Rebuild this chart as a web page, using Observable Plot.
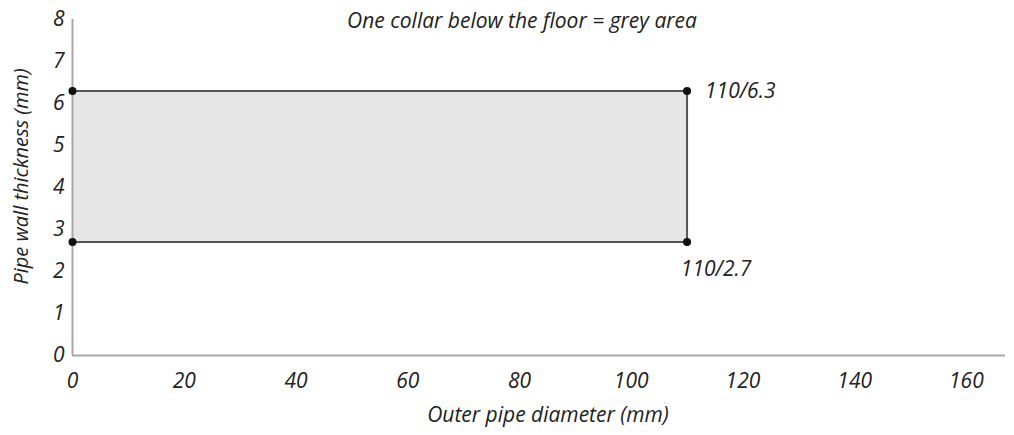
<!DOCTYPE html>
<html>
<head>
<meta charset="utf-8">
<script src="https://cdn.jsdelivr.net/npm/d3@7"></script>
<script src="https://cdn.jsdelivr.net/npm/@observablehq/plot@0.6"></script>
<style>
  html, body { margin: 0; padding: 0; background: #fff; }
  svg { font-family: "Open Sans", sans-serif; }
</style>
</head>
<body>
<div id="chart"></div>
<script>
const title = "One collar below the floor = grey area";
const xLabel = "Outer pipe diameter (mm)";
const yLabel = "Pipe wall thickness (mm)";
const xTicks = [0, 20, 40, 60, 80, 100, 120, 140, 160];
const yTicks = [0, 1, 2, 3, 4, 5, 6, 7, 8];

// corner points of the grey area
const cornerX = [0, 110, 110, 0];
const cornerY = [6.3, 6.3, 2.7, 2.7];
const pointLabels = ["", "110/6.3", "110/2.7", ""];

const corners = cornerX.map((x, i) => ({x, y: cornerY[i], label: pointLabels[i]}));
const area = [{x1: 0, x2: 110, y1: 2.7, y2: 6.3}];

const textColor = "#222";
const fs = 21;

const chart = Plot.plot({
  width: 1014,
  height: 435,
  marginLeft: 72,
  marginRight: 9,
  marginTop: 19,
  marginBottom: 80,
  style: {fontSize: fs + "px", fontStyle: "italic", color: textColor, background: "#fff"},
  x: {domain: [0, 167]},
  y: {domain: [0, 8]},
  marks: [
    Plot.rect(area, {x1: "x1", x2: "x2", y1: "y1", y2: "y2", fill: "#e6e6e6"}),
    Plot.ruleX([0], {y1: 0, y2: 8, stroke: "#a8a8a8", strokeWidth: 2}),
    Plot.ruleY([0], {stroke: "#a8a8a8", strokeWidth: 2}),
    Plot.line(corners, {x: "x", y: "y", stroke: "#555", strokeWidth: 2}),
    Plot.dot(corners, {x: "x", y: "y", r: 4, fill: "#111"}),
    Plot.text(corners.filter(d => d.label === "110/6.3"), {x: "x", y: "y", text: "label", textAnchor: "start", dx: 18, fill: textColor, fontSize: fs}),
    Plot.text(corners.filter(d => d.label === "110/2.7"), {x: "x", y: "y", text: "label", textAnchor: "middle", dx: 29, dy: 27, fill: textColor, fontSize: fs}),
    Plot.axisX(xTicks, {tickSize: 0, tickPadding: 18, label: null, fontSize: fs, fill: textColor}),
    Plot.axisY(yTicks, {tickSize: 0, tickPadding: 8, label: null, fontSize: fs, fill: textColor}),
    Plot.text([xLabel], {frameAnchor: "bottom", textAnchor: "middle", lineAnchor: "middle", dx: 9, dy: 60, fill: textColor, fontSize: fs}),
    Plot.text([yLabel], {frameAnchor: "left", textAnchor: "middle", lineAnchor: "middle", dx: -51, dy: -11, rotate: -90, fill: textColor, fontSize: 20}),
    Plot.text([title], {frameAnchor: "top", textAnchor: "middle", lineAnchor: "middle", dx: -17, dy: 2, fill: textColor, fontSize: fs})
  ]
});
document.getElementById("chart").appendChild(chart);
</script>
</body>
</html>
